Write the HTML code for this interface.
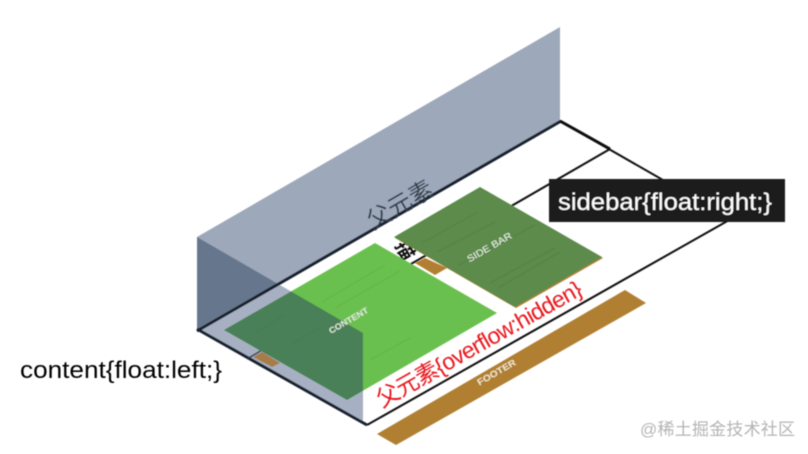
<!DOCTYPE html>
<html>
<head>
<meta charset="utf-8">
<style>
html,body{margin:0;padding:0;background:#fff;width:808px;height:454px;overflow:hidden}
svg{display:block}
text{font-family:"Liberation Sans","Noto Sans CJK SC",sans-serif}
</style>
</head>
<body>
<svg width="808" height="454" viewBox="0 0 808 454" xmlns="http://www.w3.org/2000/svg">
<defs>
<filter id="b" x="-5%" y="-5%" width="110%" height="110%"><feGaussianBlur stdDeviation="0.5"/></filter>
<clipPath id="sideClip"><polygon points="197,237 363,333 363,424 197,330"/></clipPath>
</defs>
<g filter="url(#b)">
<!-- floor outline -->
<polyline points="367,425 731,219 560,121" fill="none" stroke="#111" stroke-width="2"/>
<line x1="610" y1="149" x2="250" y2="357" stroke="#111" stroke-width="2"/>
<polygon points="415,263 425,258 447,268 435,275" fill="#b27f33"/>
<text transform="translate(404,251) rotate(60)" font-size="19" font-weight="bold" fill="#111" text-anchor="middle" dominant-baseline="central">描</text>
<!-- side wall -->
<polygon points="197,237 363,333 363,424 197,330" fill="#a7b0c3"/>
<!-- back wall -->
<polygon points="197,237 560,27 560,121 197,330" fill="#9da8ba"/>
<polygon points="197,237 280,285 197,332" fill="#66778d"/>
<!-- frame lines -->
<line x1="197" y1="331" x2="561" y2="121" stroke="#16202e" stroke-width="3"/>
<line x1="197" y1="329" x2="367" y2="425" stroke="#16202e" stroke-width="3"/>
<line x1="560" y1="121" x2="610" y2="149" stroke="#111" stroke-width="3"/>
<line x1="247" y1="359" x2="262" y2="350" stroke="#2c3a48" stroke-width="1.5"/>
<polygon points="253,357 262,352 280,363 272,367" fill="#a87c48"/>
<!-- content -->
<polygon points="375,243 497,313 347,400 224,330" fill="#6ac04f"/>
<polygon points="375,243 497,313 347,400 224,330" fill="#4a8058" clip-path="url(#sideClip)"/>
<g stroke="#62b24b" stroke-width="1" fill="none">
<line x1="322" y1="302" x2="385" y2="265"/>
<line x1="335" y1="308" x2="400" y2="271"/>
<line x1="370" y1="360" x2="410" y2="338"/>
</g>
<g stroke="#467a54" stroke-width="1" fill="none">
<line x1="255" y1="333" x2="285" y2="315"/>
<line x1="290" y1="345" x2="320" y2="328"/>
</g>
<text transform="translate(350,323) rotate(-30)" font-size="8.5" font-weight="bold" fill="#dfe8dc" text-anchor="middle" textLength="44" lengthAdjust="spacingAndGlyphs">CONTENT</text>
<!-- sidebar -->
<polygon points="481,188 603,258 516,308 395,238" fill="#b27f33"/>
<polygon points="480,187 602,257 515,307 394,237" fill="#5b8b4b"/>
<g stroke="#558345" stroke-width="1" fill="none">
<line x1="422" y1="243" x2="478" y2="212"/>
<line x1="437" y1="252" x2="495" y2="222"/>
<line x1="458" y1="265" x2="535" y2="225"/>
<line x1="490" y1="283" x2="555" y2="248"/>
<line x1="498" y1="288" x2="560" y2="252"/>
</g>
<text transform="translate(491,250) rotate(-30)" font-size="9.5" fill="#eef3ea" text-anchor="middle" textLength="50" lengthAdjust="spacingAndGlyphs">SIDE BAR</text>
<!-- footer -->
<polygon points="625,290 646,303 396,445 377,434" fill="#b07f30"/>
<text transform="translate(498,375) rotate(-30)" font-size="9" font-weight="bold" fill="#f0e6cc" text-anchor="middle" textLength="43" lengthAdjust="spacingAndGlyphs">FOOTER</text>
<!-- rotated labels -->
<text transform="translate(382,408) rotate(-29.5)" font-size="23" fill="#e8141c" textLength="232" lengthAdjust="spacing">父元素{overflow:hidden}</text>
<text transform="translate(373,230) rotate(-30)" font-size="24" fill="#333c4a" textLength="72" lengthAdjust="spacing">父元素</text>
<!-- labels -->
<rect x="549" y="179" width="236" height="43" fill="#1e1e1e"/>
<text x="558" y="210" font-size="24" fill="#fff" textLength="214" lengthAdjust="spacingAndGlyphs">sidebar{float:right;}</text>
<text x="20" y="378" font-size="24" fill="#000" textLength="202" lengthAdjust="spacingAndGlyphs">content{float:left;}</text>
<text x="640" y="435" font-size="17" fill="#b4b4b4" textLength="155" lengthAdjust="spacing">@稀土掘金技术社区</text>
</g>
</svg>
</body>
</html>
